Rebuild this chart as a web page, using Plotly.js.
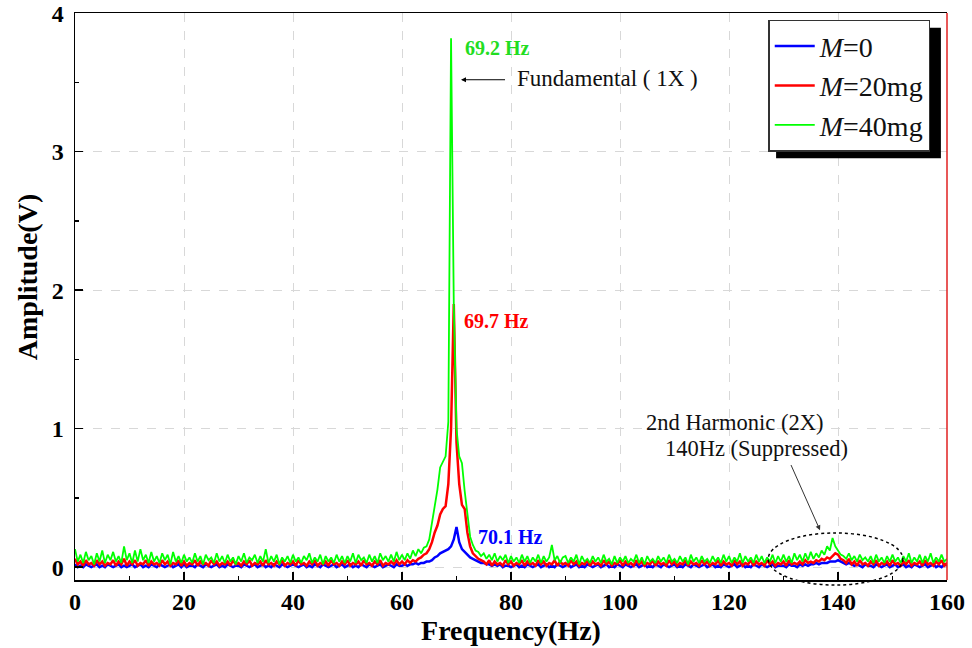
<!DOCTYPE html>
<html>
<head>
<meta charset="utf-8">
<script src="https://cdn.plot.ly/plotly-3.0.1.min.js"></script>
<style>
  html, body { margin: 0; padding: 0; background: #fff; }
  #chart { width: 972px; height: 648px; }
</style>
</head>
<body>
<div id="chart"></div>
<script>
// amplitude spectra, one value every 0.5 Hz from 0 to 160 Hz
const freqStart = 0;
const freqStep = 0.5;

const ampM0 = [
  0.02,0.00,0.01,0.00,0.02,0.01,0.00,0.01,0.02,0.00,0.01,0.00,0.02,0.01,0.00,0.01,0.02,0.00,0.01,0.00,
  0.01,0.02,0.00,0.01,0.02,0.00,0.01,0.00,0.02,0.01,0.00,0.02,0.01,0.00,0.01,0.02,0.00,0.01,0.02,0.00,
  0.02,0.00,0.01,0.01,0.00,0.02,0.01,0.00,0.02,0.01,0.00,0.01,0.02,0.00,0.01,0.00,0.02,0.01,0.00,0.01,
  0.01,0.00,0.02,0.01,0.00,0.01,0.02,0.00,0.01,0.02,0.00,0.01,0.00,0.02,0.01,0.00,0.02,0.01,0.00,0.01,
  0.02,0.01,0.00,0.01,0.02,0.00,0.01,0.00,0.02,0.01,0.00,0.02,0.01,0.00,0.01,0.02,0.00,0.01,0.02,0.00,
  0.01,0.02,0.00,0.01,0.00,0.02,0.01,0.00,0.02,0.01,0.00,0.01,0.02,0.00,0.01,0.02,0.01,0.00,0.02,0.01,
  0.01,0.02,0.01,0.02,0.02,0.03,0.02,0.03,0.03,0.04,0.04,0.05,0.07,0.08,0.10,0.11,0.12,0.13,0.15,0.20,
  0.29,0.18,0.13,0.11,0.09,0.07,0.06,0.05,0.04,0.03,0.03,0.02,0.02,0.01,0.02,0.01,0.02,0.00,0.01,0.01,
  0.00,0.01,0.02,0.00,0.01,0.00,0.02,0.01,0.00,0.01,0.02,0.00,0.01,0.02,0.00,0.01,0.00,0.02,0.01,0.00,
  0.01,0.02,0.00,0.01,0.02,0.00,0.01,0.00,0.02,0.01,0.00,0.01,0.02,0.00,0.01,0.02,0.00,0.01,0.00,0.02,
  0.01,0.00,0.02,0.01,0.00,0.01,0.02,0.00,0.01,0.02,0.00,0.01,0.00,0.02,0.01,0.00,0.02,0.01,0.00,0.01,
  0.02,0.00,0.01,0.00,0.02,0.01,0.00,0.02,0.01,0.00,0.01,0.02,0.00,0.01,0.02,0.00,0.01,0.00,0.02,0.01,
  0.00,0.01,0.02,0.00,0.01,0.02,0.00,0.01,0.00,0.02,0.01,0.00,0.02,0.01,0.00,0.01,0.02,0.00,0.01,0.01,
  0.01,0.00,0.02,0.01,0.01,0.00,0.02,0.01,0.02,0.01,0.02,0.02,0.03,0.02,0.03,0.03,0.03,0.04,0.04,0.04,
  0.05,0.04,0.03,0.02,0.03,0.02,0.01,0.02,0.01,0.00,0.02,0.01,0.01,0.00,0.02,0.01,0.00,0.01,0.02,0.00,
  0.01,0.02,0.00,0.01,0.02,0.00,0.01,0.00,0.02,0.01,0.00,0.01,0.02,0.00,0.01,0.02,0.00,0.01,0.00,0.02,
  0.01
];

const ampM20 = [
  0.06,0.02,0.04,0.01,0.05,0.02,0.03,0.01,0.05,0.02,0.04,0.01,0.03,0.02,0.05,0.01,0.04,0.02,0.06,0.01,
  0.04,0.02,0.05,0.01,0.03,0.02,0.05,0.01,0.04,0.02,0.03,0.01,0.05,0.02,0.04,0.01,0.03,0.02,0.05,0.01,
  0.04,0.01,0.03,0.02,0.05,0.01,0.04,0.02,0.03,0.01,0.05,0.02,0.04,0.01,0.03,0.02,0.04,0.01,0.05,0.02,
  0.03,0.01,0.04,0.02,0.05,0.01,0.03,0.02,0.04,0.01,0.05,0.02,0.03,0.01,0.04,0.02,0.05,0.01,0.03,0.02,
  0.04,0.01,0.05,0.02,0.03,0.01,0.04,0.02,0.05,0.01,0.03,0.02,0.04,0.01,0.05,0.02,0.03,0.01,0.04,0.02,
  0.05,0.01,0.03,0.02,0.04,0.01,0.05,0.02,0.03,0.01,0.04,0.02,0.05,0.01,0.03,0.02,0.04,0.02,0.05,0.02,
  0.04,0.02,0.05,0.03,0.05,0.04,0.06,0.07,0.09,0.10,0.13,0.18,0.25,0.30,0.38,0.42,0.44,0.60,1.00,1.90,
  0.90,0.60,0.45,0.42,0.25,0.15,0.10,0.08,0.06,0.05,0.04,0.02,0.05,0.01,0.04,0.02,0.03,0.01,0.05,0.02,
  0.04,0.01,0.03,0.02,0.05,0.01,0.04,0.02,0.03,0.01,0.05,0.02,0.04,0.01,0.03,0.02,0.05,0.01,0.04,0.02,
  0.03,0.01,0.05,0.02,0.04,0.01,0.03,0.02,0.05,0.01,0.04,0.02,0.03,0.01,0.05,0.02,0.04,0.01,0.03,0.02,
  0.05,0.01,0.04,0.02,0.03,0.01,0.05,0.02,0.04,0.01,0.03,0.02,0.05,0.01,0.04,0.02,0.03,0.01,0.05,0.02,
  0.04,0.01,0.03,0.02,0.05,0.01,0.04,0.02,0.03,0.01,0.05,0.02,0.04,0.01,0.03,0.02,0.05,0.01,0.04,0.02,
  0.03,0.01,0.05,0.02,0.04,0.01,0.03,0.02,0.05,0.01,0.04,0.02,0.03,0.01,0.05,0.02,0.04,0.01,0.03,0.02,
  0.04,0.01,0.05,0.02,0.03,0.02,0.04,0.02,0.05,0.03,0.04,0.03,0.05,0.04,0.06,0.05,0.07,0.06,0.08,0.10,
  0.09,0.06,0.05,0.03,0.06,0.02,0.04,0.01,0.05,0.02,0.03,0.01,0.04,0.02,0.05,0.01,0.03,0.02,0.04,0.01,
  0.05,0.02,0.03,0.01,0.04,0.02,0.05,0.01,0.03,0.02,0.04,0.01,0.05,0.02,0.03,0.01,0.04,0.02,0.05,0.01,
  0.03
];

const ampM40 = [
  0.13,0.04,0.09,0.03,0.11,0.05,0.08,0.02,0.10,0.04,0.12,0.03,0.09,0.05,0.11,0.04,0.08,0.03,0.15,0.05,
  0.10,0.03,0.12,0.04,0.13,0.05,0.09,0.03,0.11,0.04,0.08,0.03,0.10,0.05,0.09,0.02,0.11,0.04,0.08,0.03,
  0.09,0.04,0.07,0.03,0.10,0.04,0.08,0.02,0.09,0.05,0.07,0.03,0.10,0.04,0.08,0.03,0.09,0.04,0.07,0.02,
  0.08,0.04,0.10,0.03,0.07,0.05,0.09,0.03,0.08,0.04,0.13,0.03,0.08,0.04,0.09,0.02,0.07,0.04,0.08,0.03,
  0.09,0.04,0.07,0.03,0.08,0.05,0.10,0.03,0.07,0.04,0.09,0.02,0.08,0.04,0.07,0.03,0.09,0.04,0.08,0.03,
  0.08,0.04,0.10,0.03,0.09,0.05,0.07,0.03,0.09,0.04,0.08,0.03,0.10,0.05,0.08,0.04,0.09,0.04,0.11,0.05,
  0.09,0.05,0.10,0.06,0.12,0.08,0.13,0.10,0.14,0.15,0.20,0.32,0.46,0.56,0.72,0.76,0.80,1.05,3.82,1.90,
  1.00,0.80,0.75,0.55,0.36,0.22,0.16,0.12,0.11,0.08,0.10,0.06,0.09,0.05,0.10,0.04,0.08,0.05,0.09,0.03,
  0.08,0.04,0.07,0.03,0.09,0.04,0.08,0.03,0.07,0.04,0.09,0.03,0.08,0.04,0.07,0.16,0.05,0.08,0.03,0.07,
  0.08,0.03,0.07,0.04,0.09,0.02,0.08,0.04,0.06,0.03,0.08,0.04,0.07,0.03,0.09,0.04,0.06,0.02,0.08,0.03,
  0.07,0.04,0.08,0.03,0.06,0.04,0.09,0.03,0.07,0.02,0.08,0.04,0.06,0.03,0.08,0.04,0.07,0.03,0.09,0.04,
  0.06,0.03,0.08,0.04,0.07,0.02,0.09,0.04,0.07,0.03,0.08,0.04,0.06,0.03,0.08,0.04,0.07,0.03,0.09,0.04,
  0.08,0.03,0.07,0.04,0.10,0.03,0.08,0.04,0.07,0.03,0.09,0.04,0.08,0.03,0.07,0.04,0.09,0.03,0.08,0.04,
  0.09,0.04,0.08,0.03,0.10,0.05,0.09,0.04,0.10,0.05,0.11,0.06,0.10,0.07,0.12,0.09,0.15,0.12,0.21,0.15,
  0.12,0.09,0.08,0.06,0.10,0.05,0.08,0.04,0.09,0.05,0.07,0.04,0.08,0.03,0.09,0.04,0.07,0.03,0.08,0.04,
  0.09,0.04,0.07,0.03,0.08,0.04,0.10,0.03,0.07,0.04,0.09,0.03,0.08,0.04,0.10,0.03,0.07,0.04,0.09,0.04,
  0.06
];

const seriesNames = ['<i>M</i>=0', '<i>M</i>=20mg', '<i>M</i>=40mg'];
const seriesColors = ['#0000ff', '#ff0000', '#00ff00'];
const seriesWidths = [2.5, 2.5, 1.8];
const seriesAmps = [ampM0, ampM20, ampM40];

const xTicks = [0, 20, 40, 60, 80, 100, 120, 140, 160];
const yTicks = [0, 1, 2, 3, 4];

const serif = 'Liberation Serif, Times New Roman, serif';

const traces = seriesAmps.map((amp, i) => ({
  type: 'scatter',
  mode: 'lines',
  x0: freqStart,
  dx: freqStep,
  y: amp,
  name: seriesNames[i],
  line: { color: seriesColors[i], width: seriesWidths[i] }
}));

const layout = {
  width: 972,
  height: 648,
  margin: { l: 75, r: 25, t: 13, b: 68 },
  paper_bgcolor: '#fff',
  plot_bgcolor: '#fff',
  font: { family: serif, color: '#000' },
  showlegend: true,
  legend: {
    x: 0.795, y: 0.988, xanchor: 'left', yanchor: 'top',
    bgcolor: '#fff', bordercolor: '#333', borderwidth: 1.5,
    font: { family: serif, size: 28, color: '#111' },
    itemwidth: 40, tracegroupgap: 0
  },
  xaxis: {
    range: [0, 160],
    tickvals: xTicks,
    ticks: 'inside', ticklen: 8, tickwidth: 1.5, tickcolor: '#000',
    minor: { dtick: 10, ticks: 'inside', ticklen: 4, tickwidth: 1.5, tickcolor: '#000', showgrid: false },
    showline: true, linecolor: '#000', linewidth: 1.5, mirror: true,
    showgrid: true, gridcolor: '#d8d8d8', griddash: 'dash', gridwidth: 1,
    zeroline: false,
    ticklabeloverflow: 'allow',
    tickfont: { family: serif, size: 24, weight: 'bold' },
    title: { text: 'Frequency(Hz)', font: { family: serif, size: 28, weight: 'bold' }, standoff: 4 }
  },
  yaxis: {
    range: [-0.093, 4.002],
    tickvals: yTicks,
    ticks: 'inside', ticklen: 8, tickwidth: 1.5, tickcolor: '#000',
    minor: { dtick: 0.5, ticks: 'inside', ticklen: 4, tickwidth: 1.5, tickcolor: '#000', showgrid: false },
    showline: true, linecolor: '#000', linewidth: 1.5, mirror: false,
    showgrid: true, gridcolor: '#d8d8d8', griddash: 'dash', gridwidth: 1,
    zeroline: false,
    ticklabelstandoff: 5,
    ticklabeloverflow: 'allow',
    tickfont: { family: serif, size: 24, weight: 'bold' }
  },
  shapes: [
    // red right frame
    { type: 'line', xref: 'paper', yref: 'paper', x0: 1, x1: 1, y0: 0, y1: 1,
      line: { color: '#e02020', width: 1.5 } },
    // legend drop shadow
    { type: 'rect', xref: 'paper', yref: 'paper', x0: 0.804, x1: 0.993, y0: 0.744, y1: 0.974,
      fillcolor: '#000', line: { width: 0 }, layer: 'above' },
    // dotted ellipse round the 2X harmonic
    { type: 'circle', xref: 'x', yref: 'paper', x0: 127.2, x1: 151.9, y0: -0.009, y1: 0.083,
      line: { color: '#000', width: 1.5, dash: 'dot' }, layer: 'above' }
  ],
  annotations: [
    { x: 0, y: 0.534, xref: 'paper', yref: 'paper', xanchor: 'center', yanchor: 'middle',
      xshift: -48, showarrow: false, textangle: -90,
      text: '<b>Amplitude(V)</b>', font: { family: serif, size: 28, color: '#000' } },
    { x: 71.2, y: 3.75, xref: 'x', yref: 'y', xanchor: 'left', showarrow: false,
      text: '<b>69.2 Hz</b>', font: { family: serif, size: 20, color: '#22dd22' } },
    { x: 71.0, y: 1.774, xref: 'x', yref: 'y', xanchor: 'left', showarrow: false,
      text: '<b>69.7 Hz</b>', font: { family: serif, size: 20, color: '#ff0000' } },
    { x: 73.6, y: 0.215, xref: 'x', yref: 'y', xanchor: 'left', showarrow: false,
      text: '<b>70.1 Hz</b>', font: { family: serif, size: 20, color: '#0000ff' } },
    { x: 80.7, y: 3.53, xref: 'x', yref: 'y', xanchor: 'left', showarrow: false,
      text: 'Fundamental ( 1X )', font: { family: serif, size: 23, color: '#111' } },
    { x: 70.83, y: 3.52, xref: 'x', yref: 'y', text: ' ', showarrow: true,
      ax: 47, ay: 0, arrowhead: 2, arrowsize: 1, arrowwidth: 1, arrowcolor: '#000', standoff: 0 },
    { x: 104.4, y: 1.048, xref: 'x', yref: 'y', xanchor: 'left', showarrow: false,
      text: '2nd Harmonic (2X)', font: { family: serif, size: 22.5, color: '#111' } },
    { x: 107.9, y: 0.855, xref: 'x', yref: 'y', xanchor: 'left', showarrow: false,
      text: '140Hz (Suppressed)', font: { family: serif, size: 22.5, color: '#111' } },
    { x: 136.7, y: 0.266, xref: 'x', yref: 'y', text: ' ', showarrow: true,
      ax: -32, ay: -72, arrowhead: 2, arrowsize: 1, arrowwidth: 1, arrowcolor: '#333', standoff: 0 }
  ]
};

Plotly.newPlot('chart', traces, layout, { displayModeBar: false, staticPlot: true });
</script>
</body>
</html>
